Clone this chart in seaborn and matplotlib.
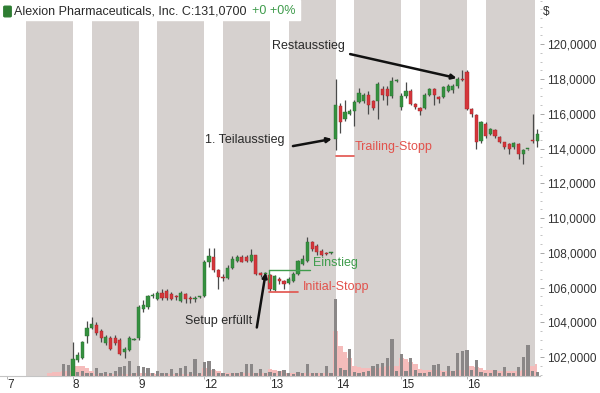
import numpy as np
import seaborn as sns
import matplotlib.pyplot as plt
from matplotlib.patches import Rectangle, FancyBboxPatch
from matplotlib.ticker import FuncFormatter, MultipleLocator


# --- data (30 min bars, 14 slots per session) ---
day_labels = ['7', '8', '9', '12', '13', '14', '15', '16']
bars_per_day = 14
first_candle_slot = 14

opens = [
    100.5, 101.85, 101.95, 103.2, 103.7, 103.85, 103.5, 102.8, 103.1, 103.1, 103.0, 102.3, 102.4, 103.0,
    103.1, 104.8, 104.9, 105.5, 105.35, 105.7, 105.8, 105.65, 105.5, 105.25, 105.65, 105.4, 105.35, 105.45,
    105.5, 107.5, 107.75, 107.0, 106.6, 106.55, 107.15, 107.55, 107.75, 107.75, 107.55, 107.85, 106.85, 106.8,
    106.7, 105.85, 106.5, 106.4, 106.25, 106.4, 106.8, 107.35, 107.55, 108.6, 108.4, 108.1, 108.0, 108.0,
    114.55, 116.45, 115.7, 116.0, 116.15, 116.65, 116.75, 117.1, 116.75, 116.75, 117.4, 117.45, 117.0, 117.9,
    116.4, 117.0, 117.3, 116.55, 116.35, 116.35, 117.05, 117.4, 116.95, 116.95, 117.3, 117.35, 117.6, 118.0,
    118.4, 116.3, 115.9, 114.45, 115.4, 114.85, 115.05, 114.65, 114.35, 114.25, 114.1, 114.25, 113.7, 113.95,
    114.5, 114.45,
]
closes = [
    101.9, 102.1, 102.85, 103.7, 103.9, 103.4, 103.1, 103.15, 102.5, 102.8, 102.2, 102.5, 103.1, 103.05,
    104.9, 105.0, 105.5, 105.6, 105.7, 105.4, 105.4, 105.35, 105.45, 105.7, 105.35, 105.35, 105.4, 105.45,
    107.5, 107.8, 107.0, 106.6, 106.55, 107.15, 107.65, 107.75, 107.5, 107.55, 107.85, 106.8, 106.7, 106.8,
    105.9, 106.65, 106.4, 106.2, 106.5, 106.8, 107.55, 107.65, 108.65, 108.2, 108.05, 107.9, 107.95, 108.0,
    116.5, 115.5, 116.1, 116.15, 116.7, 117.2, 117.1, 116.5, 116.35, 117.7, 117.05, 117.0, 117.9, 117.95,
    117.0, 117.3, 116.55, 116.4, 116.15, 117.1, 117.4, 117.1, 116.85, 117.55, 117.6, 117.6, 118.0, 117.95,
    116.3, 116.0, 114.35, 115.5, 114.7, 115.1, 114.7, 114.35, 114.1, 114.0, 114.3, 113.7, 113.9, 113.95,
    114.45, 114.85,
]
highs = [
    102.9, 102.3, 102.95, 104.1, 104.3, 104.0, 103.6, 103.3, 103.2, 103.25, 103.1, 102.6, 103.2, 103.1,
    105.0, 105.3, 105.6, 105.7, 105.8, 105.9, 105.9, 105.75, 105.6, 105.8, 105.7, 105.5, 105.5, 105.5,
    107.6, 108.3, 108.3, 107.1, 106.8, 107.3, 107.8, 107.85, 107.85, 107.85, 108.2, 107.9, 106.9, 106.9,
    106.8, 106.7, 106.6, 106.45, 106.6, 106.9, 107.6, 107.9, 108.9, 108.7, 108.5, 108.2, 108.05, 108.05,
    118.0, 116.6, 116.8, 116.3, 116.8, 117.5, 117.2, 117.3, 116.8, 117.8, 117.6, 117.6, 118.1, 118.0,
    117.2, 117.8, 117.4, 116.6, 116.4, 117.2, 117.5, 117.5, 117.0, 117.6, 117.7, 117.7, 118.1, 118.5,
    118.5, 116.35, 116.0, 115.6, 115.5, 115.2, 115.15, 114.7, 114.4, 114.3, 114.4, 114.3, 114.0, 114.0,
    116.0, 115.1,
]
lows = [
    100.4, 101.7, 101.9, 102.8, 103.6, 103.3, 102.9, 102.7, 102.4, 102.7, 102.1, 101.95, 102.35, 103.0,
    103.0, 104.6, 104.8, 105.4, 105.3, 105.3, 105.3, 105.3, 105.3, 105.2, 105.1, 105.1, 105.2, 105.4,
    105.45, 107.2, 106.9, 105.9, 106.4, 106.5, 107.1, 107.5, 107.45, 107.5, 107.5, 106.7, 106.6, 106.7,
    105.8, 105.8, 106.2, 105.9, 106.2, 106.35, 106.75, 107.3, 107.5, 108.1, 107.9, 107.8, 107.9, 107.95,
    113.9, 114.9, 115.6, 115.9, 115.3, 116.6, 116.6, 116.0, 116.2, 115.7, 116.8, 116.5, 116.9, 117.85,
    116.2, 116.9, 116.5, 116.3, 115.9, 116.3, 117.0, 116.5, 116.6, 116.9, 117.25, 117.2, 117.5, 117.9,
    116.2, 115.8, 113.95, 114.3, 114.6, 114.8, 114.6, 114.3, 113.95, 113.7, 114.0, 113.4, 113.1, 113.9,
    114.3, 114.1,
]

# volume in thousands, one value per slot starting at slot 0 (day 7)
volume = [
    0, 0, 0, 0, 0, 0, 0, 0, 0, 0, 0, 0, 120, 110,
    150, 40, 50, 30, 30, 80, 30, 40, 30, 50, 90, 100, 150, 30,
    100, 90, 80, 30, 50, 30, 30, 70, 30, 80, 100, 40, 170, 30,
    140, 150, 70, 30, 30, 20, 30, 30, 40, 120, 120, 30, 70, 30,
    40, 30, 50, 60, 30, 20, 40, 30, 120, 30, 30, 30, 100, 30,
    770, 80, 60, 270, 40, 30, 40, 50, 100, 120, 130, 180, 370, 50,
    220, 50, 180, 60, 30, 30, 40, 110, 120, 40, 100, 50, 230, 250,
    260, 60, 160, 40, 30, 30, 60, 30, 90, 30, 30, 90, 190, 310, 50, 40,
]
avg_volume = [
    0, 0, 0, 0, 0, 0, 0, 0, 0, 30, 40, 40, 50, 50,
    80, 100, 100, 80, 50, 20, 20, 20, 20, 20, 20, 20, 20, 20,
    30, 30, 30, 30, 20, 20, 20, 20, 20, 20, 20, 20, 20, 20,
    80, 70, 60, 50, 30, 30, 30, 30, 30, 30, 30, 30, 30, 30,
    70, 60, 50, 40, 30, 30, 30, 30, 30, 30, 30, 30, 30, 30,
    450, 300, 240, 180, 100, 90, 80, 80, 80, 80, 90, 100, 110, 100,
    180, 170, 140, 120, 70, 60, 60, 60, 60, 50, 50, 50, 60, 60,
    120, 100, 90, 80, 60, 60, 60, 50, 50, 50, 50, 50, 60, 60, 100, 120,
]

UP = '#35913f'
DOWN = '#d5363b'
BAND = '#d6d1cf'
TXT = '#2a2a2a'
RED_TXT = '#e2524c'
GREEN_TXT = '#3f9c4c'


def setup_axes():
    sns.set_theme(style="white")
    plt.rcParams['font.family'] = ['Liberation Sans', 'DejaVu Sans']
    fig = plt.figure(figsize=(6, 3.93), dpi=100)
    ax_vol = fig.add_axes([0.0, 17 / 393, 0.9, 376 / 393])
    ax = ax_vol.twinx()
    ax.set_zorder(ax_vol.get_zorder() + 1)
    ax.patch.set_visible(False)
    return fig, ax_vol, ax


def draw_volume(ax_vol):
    slots = np.arange(len(volume))
    # session shading
    for d in range(len(day_labels)):
        start = d * bars_per_day
        end = start + bars_per_day if d < len(day_labels) - 1 else 112.5
        ax_vol.axvspan(start + 4, end, color=BAND, lw=0, zorder=0)
    ax_vol.fill_between(slots, avg_volume, step='mid', color='#f5bcbb', lw=0, zorder=1)
    sns.barplot(x=slots, y=volume, native_scale=True, color='#8a8787', width=0.7,
                errorbar=None, saturation=1, ax=ax_vol, zorder=2, linewidth=0, edgecolor='none')
    ax_vol.set_ylim(0, 3760)
    ax_vol.set_yticks([])
    ax_vol.set_xlabel('')
    ax_vol.set_ylabel('')
    for s in ['left', 'right', 'top']:
        ax_vol.spines[s].set_visible(False)
    ax_vol.spines['bottom'].set_color('#c4c4c4')
    ax_vol.spines['bottom'].set_linewidth(0.8)
    ax_vol.set_xticks([d * bars_per_day for d in range(len(day_labels))])
    ax_vol.set_xticklabels(day_labels, ha='left', fontsize=8.5, color=TXT)
    ax_vol.tick_params(axis='x', length=2, width=0.6, color='#aaaaaa', pad=0.5, bottom=True)


def draw_candles(ax):
    o = np.array(opens)
    c = np.array(closes)
    x = np.arange(first_candle_slot, first_candle_slot + len(o))
    up = c >= o
    ax.vlines(x, lows, highs, color='#4a4a4a', lw=0.9, zorder=3)
    body = np.maximum(np.abs(c - o), 0.06)
    ax.bar(x[up], body[up], bottom=np.minimum(o, c)[up], width=0.68, color=UP,
           edgecolor='#2b6e31', lw=0.3, zorder=4)
    ax.bar(x[~up], body[~up], bottom=np.minimum(o, c)[~up], width=0.68, color=DOWN,
           edgecolor='#9e2428', lw=0.3, zorder=4)

    ax.set_ylim(100.92, 122.54)
    ax.set_xlim(-1.56, 113.58)
    ax.set_yticks(np.arange(102, 121, 2))
    ax.yaxis.set_major_formatter(FuncFormatter(lambda v, p: f"{v:.4f}".replace('.', ',')))
    ax.yaxis.set_minor_locator(MultipleLocator(0.5))
    ax.tick_params(axis='y', which='major', length=3, width=0.6, color='#999999',
                   labelsize=8.5, labelcolor='#333333', pad=2, right=True)
    ax.tick_params(axis='y', which='minor', length=1.5, width=0.5, color='#aaaaaa', right=True)
    for s in ax.spines.values():
        s.set_visible(False)


def annotate(ax):
    arrow = dict(arrowstyle='-|>', color='#111111', lw=1.8, mutation_scale=7,
                 shrinkA=0, shrinkB=0)
    ax.text(56.4, 119.9, 'Restausstieg', fontsize=9, color=TXT, va='center', ha='left')
    ax.annotate('', xy=(95.8, 118.05), xytext=(73.1, 119.43), arrowprops=arrow, zorder=6)

    ax.text(59.2, 114.48, '1. Teilausstieg', fontsize=9, color=TXT, va='center', ha='right')
    ax.annotate('', xy=(69.2, 114.55), xytext=(60.9, 114.14), arrowprops=arrow, zorder=6)

    ax.plot([70.0, 73.9], [113.56, 113.56], color=RED_TXT, lw=1.2, zorder=5)
    ax.text(74.1, 114.08, 'Trailing-Stopp', fontsize=9, color=RED_TXT, va='center', ha='left')

    ax.plot([55.9, 64.5], [107.0, 107.0], color=GREEN_TXT, lw=1.0, zorder=5)
    ax.plot([55.9, 55.9], [106.3, 107.0], color=GREEN_TXT, lw=1.0, zorder=5)
    ax.text(65.2, 107.4, 'Einstieg', fontsize=9, color=GREEN_TXT, va='center', ha='left')

    ax.plot([55.9, 61.9], [105.76, 105.76], color=RED_TXT, lw=1.2, zorder=5)
    ax.text(63.1, 106.03, 'Initial-Stopp', fontsize=9, color=RED_TXT, va='center', ha='left')

    ax.text(45.0, 104.09, 'Setup erfüllt', fontsize=9, color=TXT, va='center', ha='center')
    ax.annotate('', xy=(55.1, 106.87), xytext=(53.2, 103.71), arrowprops=arrow, zorder=6)


def header(fig):
    fig.patches.append(Rectangle((0, 1 - 20 / 393), 300 / 600, 20 / 393, transform=fig.transFigure,
                                 color='white', zorder=5))
    fig.patches.append(FancyBboxPatch((5 / 600, 1 - 16 / 393), 5 / 600, 9 / 393,
                                      boxstyle='round,pad=0.002', transform=fig.transFigure,
                                      color='#2e7d32', zorder=6))
    fig.text(14 / 600, 1 - 11 / 393, 'Alexion Pharmaceuticals, Inc. C:131,0700',
             fontsize=9, color=TXT, va='center', ha='left', zorder=7)
    fig.text(252 / 600, 1 - 11 / 393, '+0 +0%', fontsize=9, color=GREEN_TXT,
             va='center', ha='left', zorder=7)
    fig.text(543 / 600, 1 - 12 / 393, '$', fontsize=8.5, color='#333333', va='center', ha='left')


def main():
    fig, ax_vol, ax = setup_axes()
    draw_volume(ax_vol)
    draw_candles(ax)
    annotate(ax)
    header(fig)
    fig.savefig('out.png', dpi=100)


if __name__ == "__main__":
    main()
